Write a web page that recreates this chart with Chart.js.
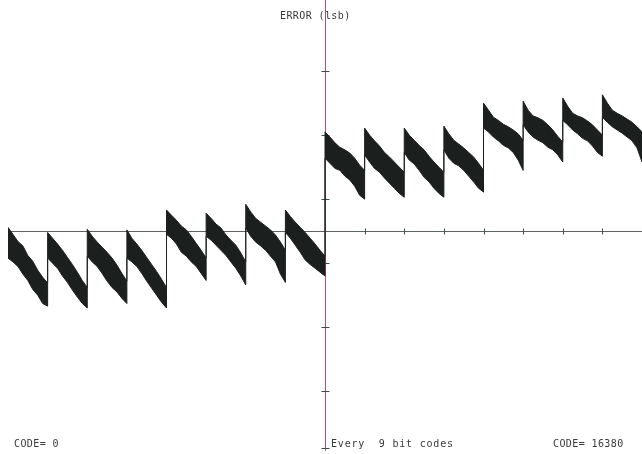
<!DOCTYPE html>
<html>
<head>
<meta charset="utf-8">
<script src="https://cdn.jsdelivr.net/npm/chart.js@4/dist/chart.umd.min.js"></script>
<style>
  html, body { margin: 0; padding: 0; background: #ffffff; }
  #wrap { width: 642px; height: 454px; }
</style>
</head>
<body>
<div id="wrap"><canvas id="chart" width="642" height="454"></canvas></div>
<script>
// 16 segments of 1024 codes (0 .. 16384), each sampled 9 times
const segmentStarts = [0, 1024, 2048, 3072, 4096, 5120, 6144, 7168, 8192, 9216, 10240, 11264, 12288, 13312, 14336, 15360];
const sampleOffsets = [0, 128, 256, 384, 512, 640, 768, 896, 1024];

// upper edge of the error trace, lsb, one row per segment
const traceTop = [
    [0.06, -0.05, -0.16, -0.23, -0.38, -0.47, -0.61, -0.72, -0.81],
    [-0.02, -0.11, -0.20, -0.30, -0.41, -0.52, -0.64, -0.77, -0.88],
    [0.03, -0.08, -0.17, -0.25, -0.33, -0.42, -0.53, -0.66, -0.78],
    [0.02, -0.11, -0.20, -0.30, -0.41, -0.52, -0.63, -0.75, -0.88],
    [0.33, 0.25, 0.17, 0.08, 0.02, -0.08, -0.19, -0.30, -0.42],
    [0.28, 0.20, 0.11, 0.05, -0.06, -0.14, -0.22, -0.34, -0.48],
    [0.42, 0.30, 0.20, 0.14, 0.08, 0.02, -0.06, -0.17, -0.30],
    [0.33, 0.23, 0.14, 0.06, -0.02, -0.11, -0.20, -0.30, -0.39],
    [1.55, 1.47, 1.38, 1.31, 1.27, 1.22, 1.14, 1.03, 0.95],
    [1.61, 1.50, 1.41, 1.33, 1.23, 1.16, 1.08, 1.00, 0.92],
    [1.61, 1.50, 1.42, 1.34, 1.27, 1.17, 1.08, 1.00, 0.92],
    [1.64, 1.52, 1.42, 1.36, 1.30, 1.23, 1.16, 1.06, 0.95],
    [2.00, 1.89, 1.78, 1.73, 1.67, 1.63, 1.58, 1.52, 1.42],
    [2.03, 1.89, 1.80, 1.77, 1.73, 1.66, 1.58, 1.48, 1.39],
    [2.08, 1.95, 1.84, 1.80, 1.77, 1.72, 1.66, 1.58, 1.50],
    [2.13, 2.00, 1.89, 1.84, 1.80, 1.75, 1.70, 1.63, 1.55],
];

// lower edge of the error trace, lsb
const traceBottom = [
    [-0.42, -0.48, -0.55, -0.67, -0.77, -0.91, -1.00, -1.13, -1.17],
    [-0.42, -0.50, -0.58, -0.70, -0.80, -0.92, -1.03, -1.13, -1.20],
    [-0.39, -0.48, -0.55, -0.66, -0.78, -0.88, -0.95, -1.05, -1.13],
    [-0.42, -0.48, -0.55, -0.66, -0.78, -0.89, -1.00, -1.11, -1.20],
    [-0.05, -0.11, -0.20, -0.33, -0.39, -0.48, -0.55, -0.66, -0.77],
    [-0.08, -0.14, -0.22, -0.30, -0.38, -0.48, -0.58, -0.70, -0.84],
    [0.05, -0.08, -0.17, -0.23, -0.30, -0.39, -0.48, -0.67, -0.80],
    [-0.02, -0.11, -0.22, -0.33, -0.45, -0.52, -0.58, -0.64, -0.70],
    [1.14, 1.06, 0.98, 0.95, 0.86, 0.80, 0.70, 0.56, 0.50],
    [1.19, 1.08, 0.98, 0.92, 0.83, 0.75, 0.67, 0.59, 0.53],
    [1.23, 1.11, 1.05, 0.95, 0.84, 0.77, 0.67, 0.59, 0.53],
    [1.27, 1.14, 1.06, 1.02, 0.95, 0.86, 0.77, 0.67, 0.61],
    [1.61, 1.55, 1.47, 1.41, 1.34, 1.30, 1.23, 1.11, 0.95],
    [1.66, 1.55, 1.47, 1.42, 1.38, 1.31, 1.27, 1.19, 1.08],
    [1.73, 1.66, 1.58, 1.52, 1.45, 1.41, 1.33, 1.23, 1.17],
    [1.78, 1.70, 1.63, 1.58, 1.53, 1.47, 1.41, 1.30, 1.08],
];

// axis ticks
const yTicks = [2.5, 1.5, 0.5, -0.5, -1.5, -2.5, -3.38];
const xTicks = [9216, 10240, 11264, 12288, 13312, 14336, 15360];
const midCode = 8192;

const labels = {
    title: "ERROR (lsb)",
    left: "CODE= 0",
    middle: "Every  9 bit codes",
    right: "CODE= 16380",
};

function buildPoints(rows) {
    const pts = [];
    rows.forEach((row, s) => {
        row.forEach((v, j) => pts.push({ x: segmentStarts[s] + sampleOffsets[j], y: v }));
    });
    return pts;
}

const axesPlugin = {
    id: "plotterAxes",
    beforeDatasetsDraw(chart) {
        const { ctx, scales: { x, y } } = chart;
        const x0 = Math.round(x.getPixelForValue(midCode)) + 0.5;
        const y0 = Math.round(y.getPixelForValue(0)) + 0.5;
        ctx.save();
        // horizontal zero line
        ctx.strokeStyle = "#5e6262";
        ctx.lineWidth = 1;
        ctx.beginPath();
        ctx.moveTo(x.getPixelForValue(0), y0);
        ctx.lineTo(x.getPixelForValue(16384), y0);
        ctx.stroke();
        ctx.strokeStyle = "#3f4d4b";
        xTicks.forEach((t) => {
            const px = Math.round(x.getPixelForValue(t)) + 0.5;
            ctx.beginPath();
            ctx.moveTo(px, y0 - 3);
            ctx.lineTo(px, y0 + 3);
            ctx.stroke();
        });
        // vertical axis at mid code
        ctx.strokeStyle = "#c24c70";
        ctx.beginPath();
        ctx.moveTo(x0, 0);
        ctx.lineTo(x0, y.getPixelForValue(-3.43));
        ctx.stroke();
        ctx.strokeStyle = "#3c4a48";
        yTicks.forEach((t) => {
            const py = Math.round(y.getPixelForValue(t)) + 0.5;
            ctx.beginPath();
            ctx.moveTo(x0 - 4, py);
            ctx.lineTo(x0 + 4, py);
            ctx.stroke();
        });
        ctx.restore();
    },
    afterDraw(chart) {
        const { ctx } = chart;
        ctx.save();
        ctx.fillStyle = "#3a3a3a";
        ctx.font = "10px 'DejaVu Sans Mono'";
        ctx.textBaseline = "middle";
        ctx.letterSpacing = "0.4px";
        ctx.fillText(labels.title, 280, 16);
        ctx.fillText(labels.left, 14, 444);
        ctx.fillText(labels.right, 553, 444);
        ctx.letterSpacing = "0.8px";
        ctx.fillText(labels.middle, 331, 444);
        ctx.restore();
    },
};

new Chart(document.getElementById("chart"), {
    type: "line",
    data: {
        datasets: [
            {
                label: "bottom",
                data: buildPoints(traceBottom),
                borderColor: "#1b201f",
                borderWidth: 1,
                pointRadius: 0,
                tension: 0,
                fill: false,
            },
            {
                label: "top",
                data: buildPoints(traceTop),
                borderColor: "#1b201f",
                borderWidth: 1,
                backgroundColor: "#1b201f",
                pointRadius: 0,
                tension: 0,
                fill: "-1",
            },
        ],
    },
    options: {
        responsive: false,
        animation: false,
        devicePixelRatio: 1,
        layout: { padding: { left: 8, right: 0, top: 0, bottom: 0 } },
        plugins: { legend: { display: false }, tooltip: { enabled: false } },
        scales: {
            x: { type: "linear", min: 0, max: 16384, display: false },
            y: { min: -3.48, max: 3.61, display: false },
        },
    },
    plugins: [axesPlugin],
});
</script>
</body>
</html>
